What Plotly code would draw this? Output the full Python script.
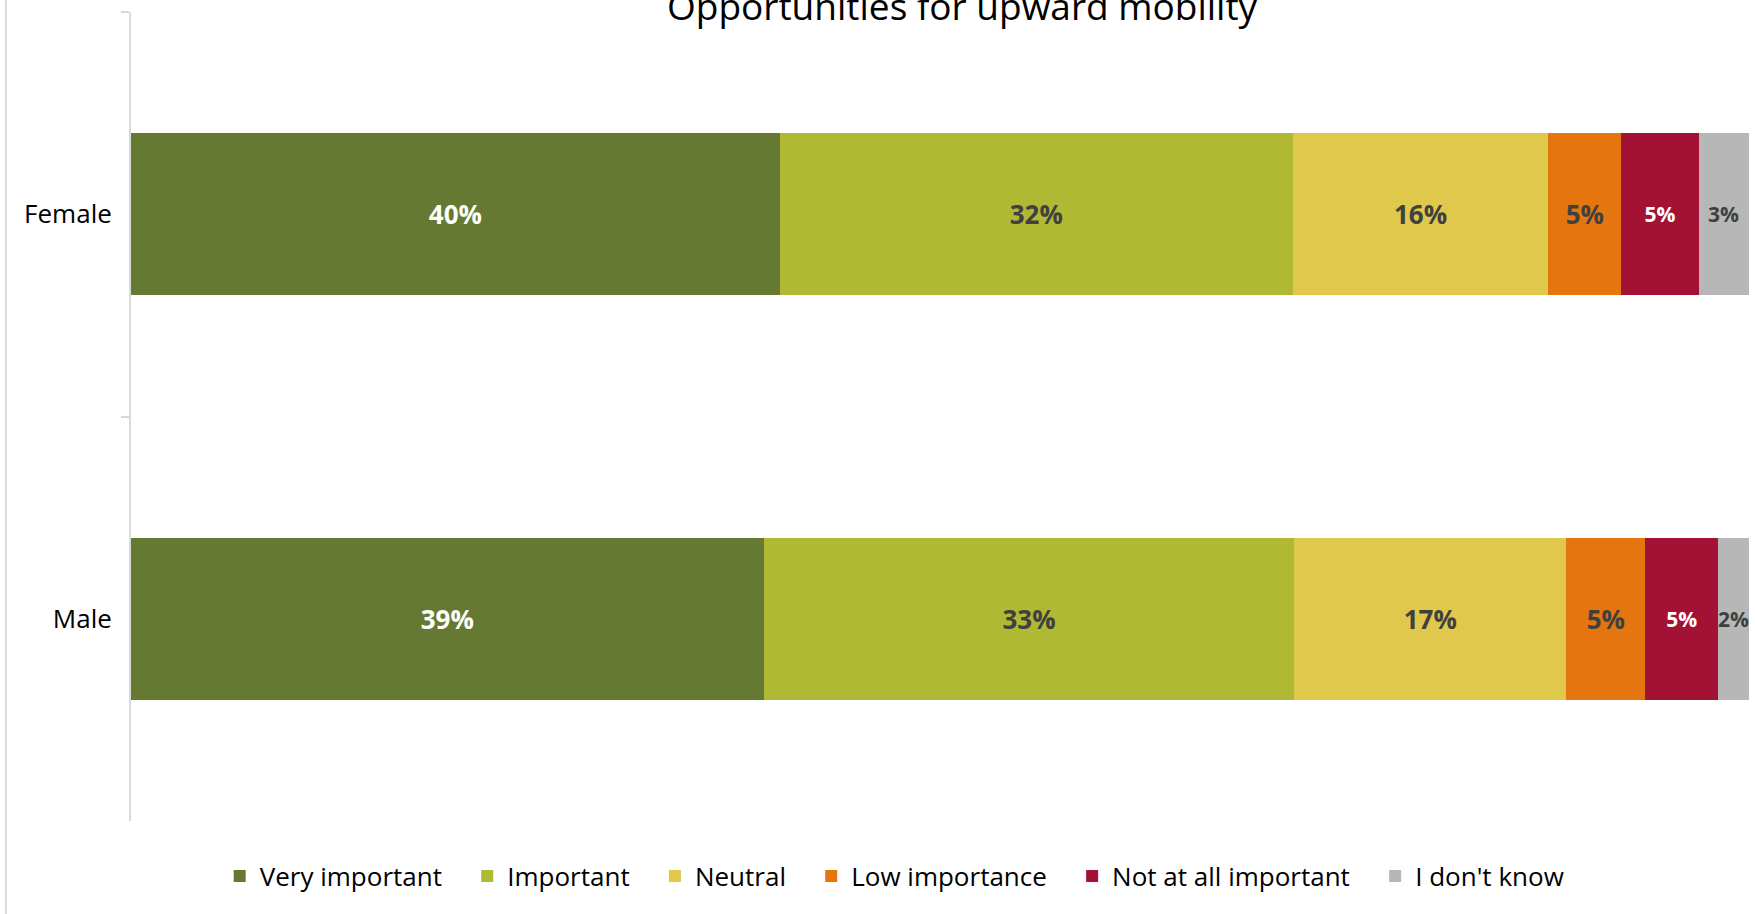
import plotly.graph_objects as go

# Survey responses by gender, share of respondents (%)
groups = ["Female", "Male"]
levels = ["Very important", "Important", "Neutral", "Low importance",
          "Not at all important", "I don't know"]
female = [40.1, 31.7, 15.8, 4.5, 4.8, 3.1]
male = [39.1, 32.8, 16.8, 4.9, 4.5, 1.9]

colors = ["#667932", "#b0b933", "#dfc84c", "#e5750f", "#a31134", "#b7b7b7"]
label_colors = ["#ffffff", "#404040", "#404040", "#404040", "#ffffff", "#404040"]
label_sizes = [26, 26, 26, 26, 21, 21]

FONT = "Open Sans"
GAP = "\u00a0" * 3  # extra room after each legend entry

fig = go.Figure()
annotations = []
for i, name in enumerate(levels):
    vals = [female[i], male[i]]
    last = i == len(levels) - 1
    fig.add_trace(go.Bar(
        y=groups,
        x=vals,
        name=name + ("" if last else GAP),
        orientation="h",
        marker=dict(color=colors[i], line=dict(width=0)),
        texttemplate="%{x:.0f}%",
        textposition="none" if last else "inside",
        insidetextanchor="middle",
        constraintext="none",
        cliponaxis=False,
        textfont=dict(family=FONT, size=label_sizes[i], color=label_colors[i],
                      weight="bold"),
        hoverinfo="skip",
    ))
    if last:
        # narrow segments: labels may spill past the bar edge
        for g, v, base in zip(groups, vals,
                              [sum(female[:i]), sum(male[:i])]):
            annotations.append(dict(
                text=f"{v:.0f}%", x=base + v / 2, y=g,
                xref="x", yref="y", showarrow=False,
                xanchor="center", yanchor="middle",
                font=dict(family=FONT, size=label_sizes[i],
                          color=label_colors[i], weight="bold"),
            ))

annotations.append(dict(
    text="Opportunities for upward mobility",
    xref="paper", yref="paper",
    x=0.514, y=1.0075,
    xanchor="center", yanchor="middle",
    showarrow=False,
    font=dict(family=FONT, size=37, color="#000000"),
))

fig.update_layout(
    barmode="stack",
    bargap=0.6,
    width=1755,
    height=914,
    margin=dict(l=131, r=6, t=12, b=93),
    paper_bgcolor="white",
    plot_bgcolor="white",
    font=dict(family=FONT, size=26, color="#000000"),
    showlegend=True,
    legend=dict(
        orientation="h",
        x=0.472, xanchor="center",
        y=-0.068, yanchor="middle",
        font=dict(family=FONT, size=26, color="#000000"),
        traceorder="normal",
        itemclick=False,
    ),
    xaxis=dict(range=[0, 100], visible=False, fixedrange=True),
    yaxis=dict(
        categoryorder="array",
        categoryarray=groups,
        autorange="reversed",
        showline=True,
        linecolor="#d9d9d9",
        linewidth=2,
        ticks="outside",
        tickson="boundaries",
        ticklen=8,
        tickwidth=2,
        tickcolor="#d9d9d9",
        ticklabelstandoff=12,
        showgrid=False,
        zeroline=False,
        tickfont=dict(family=FONT, size=26, color="#000000"),
    ),
    annotations=annotations,
    shapes=[dict(
        type="line", xref="paper", yref="paper",
        x0=-0.0773, x1=-0.0773, y0=-0.2, y1=1.1,
        line=dict(color="#d9d9d9", width=2),
    )],
)

fig.write_html("out.html")
